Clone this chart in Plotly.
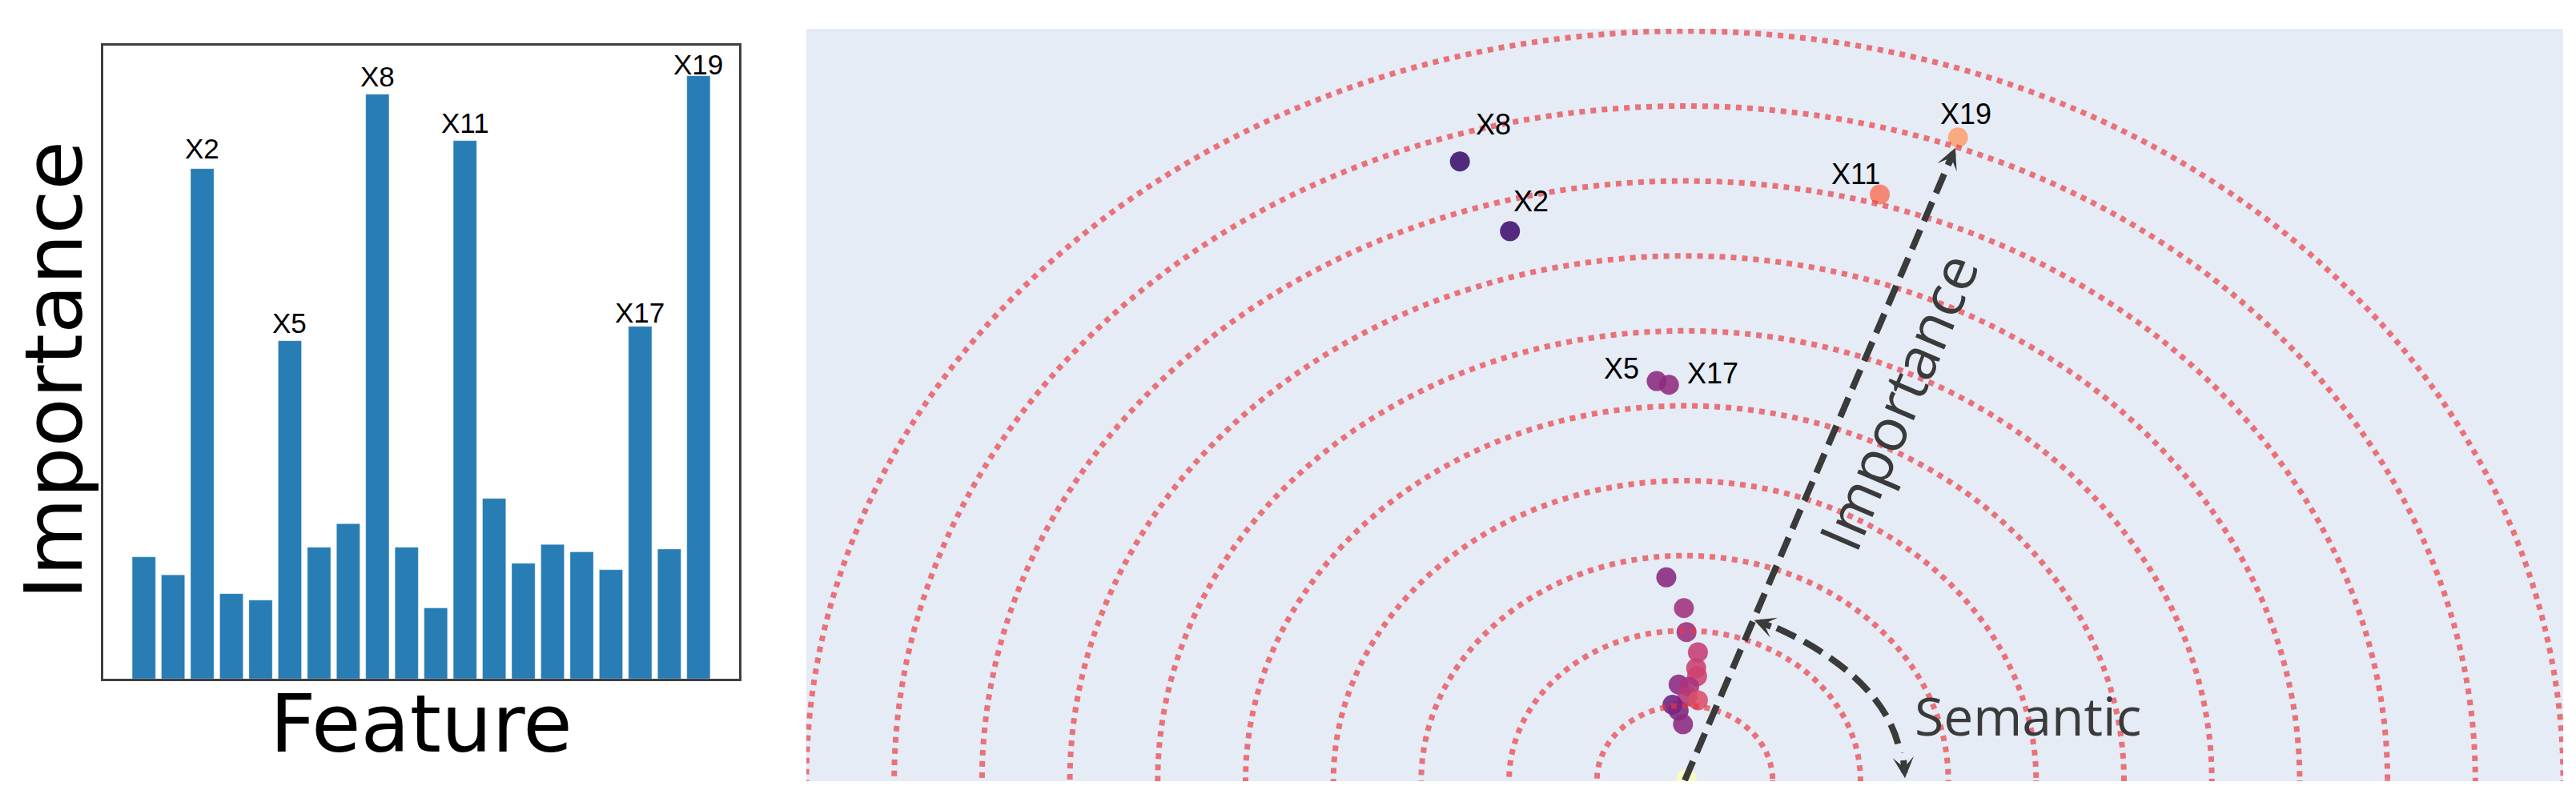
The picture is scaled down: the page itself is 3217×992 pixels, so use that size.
import math
import plotly.graph_objects as go

W, H = 3217, 992

# ---------------- data: left panel (feature importance bars) ----------------
bar_features = [f"X{i}" for i in range(20)]
bar_importance = [0.0265, 0.0226, 0.1109, 0.0185, 0.0171, 0.0735, 0.0286, 0.0337, 0.1271, 0.0286,
                  0.0154, 0.1170, 0.0392, 0.0251, 0.0292, 0.0276, 0.0237, 0.0766, 0.0282, 0.1311]
bar_labelled = ["X2", "X5", "X8", "X11", "X17", "X19"]

# ---------------- data: right panel (semantic / importance map) ----------------
pt_names = ["X8", "X2", "X19", "X11", "X5", "X17",
            "X0", "X1", "X3", "X4", "X6", "X7", "X9", "X10", "X12", "X13", "X14", "X15", "X16", "X18"]
pt_x = [-2.56, -1.99, 3.11, 2.22, -0.32, -0.18,
        -0.21, -0.01, 0.02, 0.15, 0.13, 0.14, -0.07, 0.05, 0.03, 0.15, -0.14, -0.07, -0.02, 0.02]
pt_y = [8.26, 7.33, 8.58, 7.82, 5.33, 5.28,
        2.71, 2.30, 1.98, 1.71, 1.50, 1.39, 1.28, 1.25, 1.12, 1.07, 1.01, 0.93, 0.75, 0.02]
pt_color = [0.20, 0.21, 0.80, 0.72, 0.40, 0.41,
            0.39, 0.45, 0.44, 0.54, 0.55, 0.56, 0.40, 0.47, 0.50, 0.60, 0.33, 0.36, 0.40, 1.00]
pt_labelled = ["X8", "X2", "X19", "X11", "X5", "X17"]
ring_radii = [1, 2, 3, 4, 5, 6, 7, 8, 9, 10]

# ---------------- styles ----------------
BAR_COLOR = "#287db5"
FRAME = "#3f3f3f"
ARROW = "#3a3a3a"
RING = "rgba(235, 55, 62, 0.68)"
LABEL_FONT = "Liberation Sans, Arial, sans-serif"
bar_label_lift = {"X2": 4, "X5": 1, "X8": 1, "X11": 1, "X17": -4, "X19": -7}
pt_label_offset = {"X8": (18, 46), "X2": (2, 37), "X19": (-24, 29),
                   "X11": (-63, 25), "X5": (-68, 16), "X17": (21, 14)}

# subplot geometry (paper fractions)
x1_dom = [121 / W, 915 / W]
y1_dom = [(H - 840) / H, (H - 49) / H]
x2_dom = [999 / W, 3193 / W]
y2_dom = [(H - 968) / H, (H - 28) / H]
x2_rng = [-10, 10]
y2_rng = [-0.01, 10.03]
px_x = (x2_dom[1] - x2_dom[0]) * W / (x2_rng[1] - x2_rng[0])
px_y = (y2_dom[1] - y2_dom[0]) * H / (y2_rng[1] - y2_rng[0])

fig = go.Figure()

# left: bars
fig.add_trace(go.Bar(
    x=list(range(len(bar_features))), y=bar_importance, width=0.8,
    hovertext=bar_features,
    marker=dict(color=BAR_COLOR, line=dict(color="rgba(255,255,255,0.35)", width=1)),
    xaxis="x", yaxis="y", showlegend=False,
))

# right: points
fig.add_trace(go.Scatter(
    x=pt_x, y=pt_y, mode="markers", hovertext=pt_names,
    marker=dict(size=25, color=pt_color, colorscale="Magma", cmin=0, cmax=1,
                opacity=0.88, line=dict(width=0)),
    xaxis="x2", yaxis="y2", showlegend=False,
))

shapes = []
# background of the map
shapes.append(dict(type="rect", xref="x2 domain", yref="y2 domain", x0=0, x1=1, y0=0, y1=1,
                   fillcolor="#E5ECF6", line=dict(width=0), layer="below"))
# dotted rings
for r in ring_radii:
    shapes.append(dict(type="circle", xref="x2", yref="y2", x0=-r, x1=r, y0=-r, y1=r,
                       line=dict(color=RING, width=7, dash="dot"), layer="above"))

annotations = []

# bar labels
for name in bar_labelled:
    i = bar_features.index(name)
    annotations.append(dict(x=i, y=bar_importance[i], xref="x", yref="y", text=name,
                            showarrow=False, yanchor="bottom", xanchor="center",
                            yshift=bar_label_lift[name],
                            font=dict(family=LABEL_FONT, size=35, color="black")))

# point labels
for name in pt_labelled:
    k = pt_names.index(name)
    dx, dy = pt_label_offset[name]
    annotations.append(dict(x=pt_x[k], y=pt_y[k], xref="x2", yref="y2", text=name,
                            showarrow=False, xanchor="left", yanchor="middle",
                            xshift=dx, yshift=dy,
                            font=dict(family=LABEL_FONT, size=36, color="black")))

# importance arrow (dashed shaft + head)
HEAD = 24
tip = (3.08, 8.44)
vx, vy = tip[0] * px_x, tip[1] * px_y
L = math.hypot(vx, vy)
ux, uy = vx / L, vy / L
shaft_end = (tip[0] * (1 - 0.7 * HEAD / L), tip[1] * (1 - 0.7 * HEAD / L))
shapes.append(dict(type="line", xref="x2", yref="y2", x0=0, y0=0, x1=shaft_end[0], y1=shaft_end[1],
                   line=dict(color=ARROW, width=8, dash="26px,12px"), layer="above"))
annotations.append(dict(x=tip[0], y=tip[1], xref="x2", yref="y2", text="", showarrow=True,
                        ax=-ux * HEAD, ay=uy * HEAD, arrowhead=3, arrowsize=0.55,
                        arrowwidth=8, arrowcolor=ARROW))
angle = math.degrees(math.atan2(vy, vx))
annotations.append(dict(x=2.42, y=5.07, xref="x2", yref="y2", text="Importance",
                        showarrow=False, textangle=-angle, xanchor="center", yanchor="middle",
                        font=dict(family="Open Sans, sans-serif", size=73, color=ARROW)))

# semantic arc (dashed cubic curve + two heads)
P0, P1, P2, P3 = (1.048, 2.035), (1.719, 1.679), (2.34, 1.115), (2.452, 0.363)
path = f"M {P0[0]},{P0[1]} C {P1[0]},{P1[1]} {P2[0]},{P2[1]} {P3[0]},{P3[1]}"
shapes.append(dict(type="path", xref="x2", yref="y2", path=path,
                   line=dict(color=ARROW, width=8, dash="26px,12px"), layer="above"))
for tip_pt, (dxp, dyp) in [((0.79, 2.14), (0.935, 0.355)), ((2.507, 0.03), (-0.082, -0.997))]:
    annotations.append(dict(x=tip_pt[0], y=tip_pt[1], xref="x2", yref="y2", text="", showarrow=True,
                            ax=dxp * HEAD, ay=dyp * HEAD, arrowhead=3, arrowsize=0.55,
                            arrowwidth=8, arrowcolor=ARROW))
annotations.append(dict(x=3.91, y=0.876, xref="x2", yref="y2", text="Semantic", showarrow=False,
                        xanchor="center", yanchor="middle",
                        font=dict(family="Open Sans, sans-serif", size=66, color=ARROW)))

# left axis titles
annotations.append(dict(x=60 / W, y=(H - 455) / H, xref="paper", yref="paper", text="Importance",
                        showarrow=False, textangle=-90, xanchor="center", yanchor="middle",
                        font=dict(family="DejaVu Sans", size=100, color="black")))
annotations.append(dict(x=518 / W, y=(H - 896) / H, xref="paper", yref="paper", text="Feature",
                        showarrow=False, xanchor="center", yanchor="middle",
                        font=dict(family="DejaVu Sans", size=100, color="black")))

axis_box = dict(showticklabels=False, ticks="", showgrid=False, zeroline=False,
                showline=True, mirror=True, linecolor=FRAME, linewidth=2.5)
fig.update_layout(
    width=W, height=H, margin=dict(l=0, r=0, t=0, b=0),
    paper_bgcolor="white", plot_bgcolor="white", showlegend=False,
    xaxis=dict(domain=x1_dom, range=[-1.39, 20.39], anchor="y", **axis_box),
    yaxis=dict(domain=y1_dom, range=[0, 1.05 * max(bar_importance)], anchor="x", **axis_box),
    xaxis2=dict(domain=x2_dom, range=x2_rng, anchor="y2", visible=False),
    yaxis2=dict(domain=y2_dom, range=y2_rng, anchor="x2", visible=False),
    shapes=shapes, annotations=annotations,
)

fig.write_html("out.html")
